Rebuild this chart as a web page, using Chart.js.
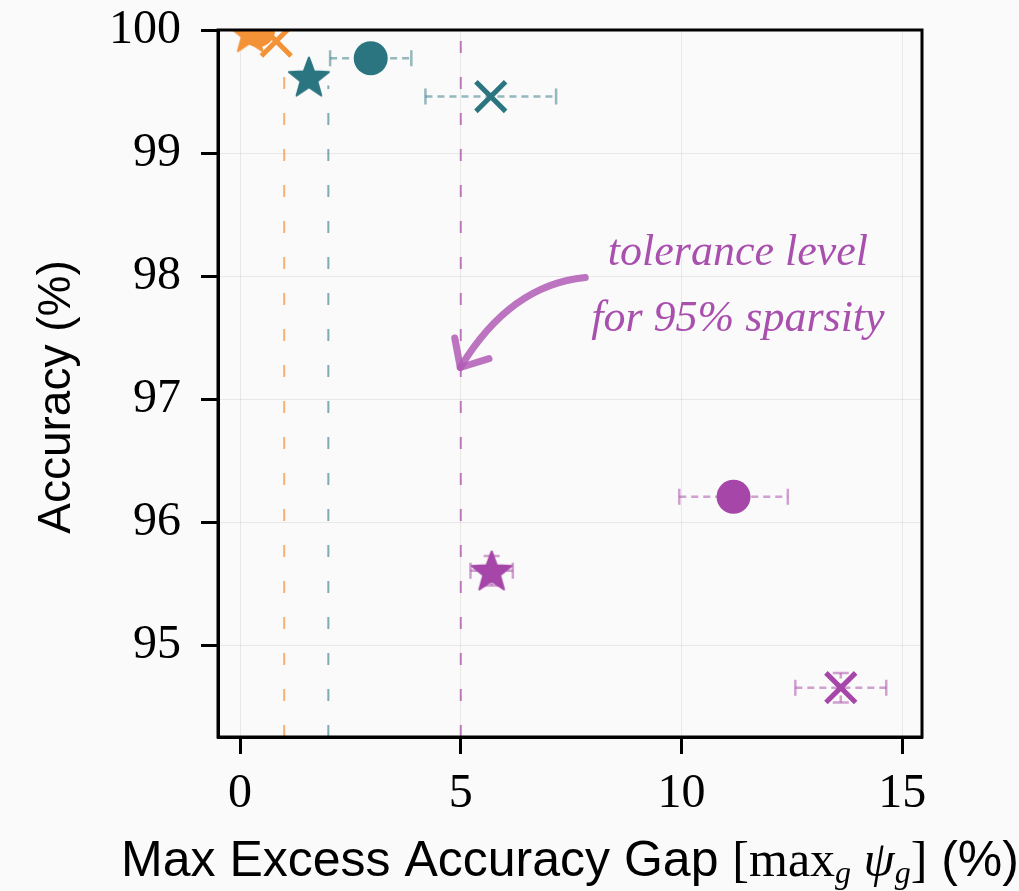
<!DOCTYPE html>
<html>
<head>
<meta charset="utf-8">
<script src="https://cdn.jsdelivr.net/npm/chart.js@4.4.1/dist/chart.umd.min.js"></script>
<style>
  html, body { margin: 0; padding: 0; background: #fafafa; }
  #wrap { width: 1019px; height: 891px; }
</style>
</head>
<body>
<div id="wrap"><canvas id="chart" width="1019" height="891"></canvas></div>
<script>
// axis limits and ticks
const xTicks = [0, 5, 10, 15];
const yTicks = [95, 96, 97, 98, 99, 100];
const xLimits = [-0.5, 15.45];
const yLimits = [94.26, 100];

// markers: cross, circle, star  (per group)
const orangeX = [0.82, 0.41, 0.23];
const orangeY = [99.91, 100.0, 99.98];
const orangeXErr = [0, 0, 0];
const orangeYErr = [0, 0, 0];

const tealX = [5.68, 2.96, 1.56];
const tealY = [99.46, 99.77, 99.62];
const tealXErr = [1.48, 0.92, 0];
const tealYErr = [0, 0, 0];

const purpleX = [13.61, 11.18, 5.70];
const purpleY = [94.66, 96.21, 95.61];
const purpleXErr = [1.03, 1.23, 0.48];
const purpleYErr = [0.12, 0, 0.12];

// vertical tolerance lines
const toleranceX = [1, 2, 5];
const toleranceTop = [99.72, 99.55, 100];

// annotation
const noteLines = ['tolerance level', 'for 95% sparsity'];
const noteX = 11.28;
const noteY = [98.09, 97.56];
const arrowFrom = { x: 7.82, y: 97.99 };
const arrowCtrl = { x: 6.12, y: 97.93 };
const arrowTo = { x: 4.99, y: 97.26 };

const ORANGE = '#f39237';
const TEAL = '#2b7580';
const PURPLE = '#a546a8';

function starCanvas(color, r) {
  const c = document.createElement('canvas');
  c.width = c.height = Math.ceil(r * 2 + 4);
  const g = c.getContext('2d');
  const cx = c.width / 2, cy = c.height / 2 + r * 0.08;
  g.beginPath();
  for (let i = 0; i < 10; i++) {
    const rad = i % 2 ? r * 0.42 : r;
    const a = -Math.PI / 2 + i * Math.PI / 5;
    const px = cx + rad * Math.cos(a), py = cy + rad * Math.sin(a);
    if (i === 0) g.moveTo(px, py); else g.lineTo(px, py);
  }
  g.closePath();
  g.fillStyle = color;
  g.strokeStyle = color;
  g.lineJoin = 'round';
  g.lineWidth = 2;
  g.fill();
  g.stroke();
  return c;
}

function pts(xs, ys) {
  return xs.map((x, i) => ({ x, y: ys[i] }));
}

function markerSet(label, color, xs, ys, xErr, yErr, errColor) {
  return {
    label,
    type: 'scatter',
    data: pts(xs, ys),
    xErr, yErr, errColor,
    pointStyle: ['crossRot', 'circle', starCanvas(color, 21)],
    pointRadius: [21, 17, 20],
    pointBorderWidth: [5, 0, 0],
    pointBackgroundColor: color,
    pointBorderColor: color,
    order: 1
  };
}

const tolColors = ['rgba(243,146,55,0.7)', 'rgba(43,117,128,0.6)', 'rgba(165,70,168,0.7)'];

const tolSets = toleranceX.map((x, i) => ({
  label: 'tol' + i,
  type: 'line',
  data: [{ x, y: yLimits[0] }, { x, y: toleranceTop[i] }],
  borderColor: tolColors[i],
  borderWidth: 2,
  borderDash: [12, 24],
  pointRadius: 0,
  fill: false,
  order: 5
}));

const markerSets = [
  markerSet('orange', ORANGE, orangeX, orangeY, orangeXErr, orangeYErr, 'rgba(243,146,55,0.5)'),
  markerSet('teal', TEAL, tealX, tealY, tealXErr, tealYErr, 'rgba(43,117,128,0.5)'),
  markerSet('purple', PURPLE, purpleX, purpleY, purpleXErr, purpleYErr, 'rgba(165,70,168,0.5)')
];
markerSets[0].clip = 0;

const bgPlugin = {
  id: 'bg',
  beforeDraw(chart) {
    const ctx = chart.ctx;
    ctx.save();
    ctx.fillStyle = '#fafafa';
    ctx.fillRect(0, 0, chart.width, chart.height);
    ctx.restore();
  }
};

const errorBars = {
  id: 'errorBars',
  beforeDatasetsDraw(chart) {
    const { ctx, scales: { x, y } } = chart;
    ctx.save();
    chart.data.datasets.forEach(ds => {
      if (!ds.xErr) return;
      ctx.strokeStyle = ds.errColor;
      ctx.lineWidth = 2.5;
      ds.data.forEach((p, i) => {
        const px = x.getPixelForValue(p.x), py = y.getPixelForValue(p.y);
        const ex = ds.xErr[i], ey = ds.yErr[i];
        if (ex > 0) {
          const x0 = x.getPixelForValue(p.x - ex), x1 = x.getPixelForValue(p.x + ex);
          ctx.setLineDash([7, 5]);
          ctx.beginPath(); ctx.moveTo(x0, py); ctx.lineTo(x1, py); ctx.stroke();
          ctx.setLineDash([]);
          ctx.beginPath();
          ctx.moveTo(x0, py - 8); ctx.lineTo(x0, py + 8);
          ctx.moveTo(x1, py - 8); ctx.lineTo(x1, py + 8);
          ctx.stroke();
        }
        if (ey > 0) {
          const y0 = y.getPixelForValue(p.y - ey), y1 = y.getPixelForValue(p.y + ey);
          ctx.setLineDash([7, 5]);
          ctx.beginPath(); ctx.moveTo(px, y0); ctx.lineTo(px, y1); ctx.stroke();
          ctx.setLineDash([]);
          ctx.beginPath();
          ctx.moveTo(px - 8, y0); ctx.lineTo(px + 8, y0);
          ctx.moveTo(px - 8, y1); ctx.lineTo(px + 8, y1);
          ctx.stroke();
        }
      });
    });
    ctx.restore();
  }
};

const overlay = {
  id: 'overlay',
  afterDatasetsDraw(chart) {
    const { ctx, chartArea: a, scales: { x, y } } = chart;
    ctx.save();
    // frame
    ctx.strokeStyle = '#000';
    ctx.lineWidth = 3;
    ctx.strokeRect(a.left, a.top, a.right - a.left, a.bottom - a.top);

    // annotation text
    ctx.fillStyle = '#a94fae';
    ctx.font = 'italic 44px "Liberation Serif"';
    ctx.textAlign = 'center';
    ctx.textBaseline = 'alphabetic';
    noteLines.forEach((t, i) => {
      ctx.fillText(t, x.getPixelForValue(noteX), y.getPixelForValue(noteY[i]));
    });

    // curved arrow
    const sx = x.getPixelForValue(arrowFrom.x), sy = y.getPixelForValue(arrowFrom.y);
    const cx = x.getPixelForValue(arrowCtrl.x), cy = y.getPixelForValue(arrowCtrl.y);
    const tx = x.getPixelForValue(arrowTo.x), ty = y.getPixelForValue(arrowTo.y);
    ctx.strokeStyle = 'rgba(176,90,181,0.85)';
    ctx.lineWidth = 7;
    ctx.lineCap = 'round';
    ctx.lineJoin = 'round';
    ctx.beginPath();
    ctx.moveTo(sx, sy);
    ctx.quadraticCurveTo(cx, cy, tx, ty);
    ctx.stroke();
    const back = Math.atan2(cy - ty, cx - tx);
    const len = 30, spread = 0.73;
    ctx.beginPath();
    ctx.moveTo(tx + len * Math.cos(back + spread), ty + len * Math.sin(back + spread));
    ctx.lineTo(tx, ty);
    ctx.lineTo(tx + len * Math.cos(back - spread), ty + len * Math.sin(back - spread));
    ctx.stroke();

    // y axis title
    ctx.fillStyle = '#000';
    ctx.save();
    ctx.translate(57, 397);
    ctx.rotate(-Math.PI / 2);
    ctx.font = '46px "Liberation Sans"';
    ctx.textAlign = 'center';
    ctx.textBaseline = 'middle';
    ctx.fillText('Accuracy (%)', 0, 0);
    ctx.restore();

    // x axis title with math part
    const parts = [
      { t: 'Max Excess Accuracy Gap ', f: '50px "Liberation Sans"', dy: 0 },
      { t: '[max', f: '50px "Liberation Serif"', dy: 0 },
      { t: 'g', f: 'italic 32px "Liberation Serif"', dy: 7 },
      { t: ' ψ', f: 'italic 50px "Liberation Serif"', dy: 0 },
      { t: 'g', f: 'italic 32px "Liberation Serif"', dy: 7 },
      { t: ']', f: '50px "Liberation Serif"', dy: 0 },
      { t: ' (%)', f: '50px "Liberation Sans"', dy: 0 }
    ];
    ctx.textAlign = 'left';
    ctx.textBaseline = 'alphabetic';
    let total = 0;
    parts.forEach(p => { ctx.font = p.f; p.w = ctx.measureText(p.t).width; total += p.w; });
    let px = (a.left + a.right) / 2 - total / 2;
    const base = 876;
    parts.forEach(p => {
      ctx.font = p.f;
      ctx.fillText(p.t, px, base + p.dy);
      px += p.w;
    });
    ctx.restore();
  }
};

const tickFont = { family: '"Liberation Serif"', size: 48 };

new Chart(document.getElementById('chart'), {
  type: 'scatter',
  data: { datasets: [...markerSets, ...tolSets] },
  options: {
    responsive: false,
    animation: false,
    layout: { padding: { top: 30, right: 97, left: 0, bottom: 0 } },
    plugins: { legend: { display: false }, tooltip: { enabled: false } },
    scales: {
      x: {
        type: 'linear',
        min: xLimits[0], max: xLimits[1],
        afterBuildTicks: s => { s.ticks = xTicks.map(v => ({ value: v })); },
        afterFit: s => { s.height = 154; s.paddingLeft = 0; s.paddingRight = 0; },
        grid: { color: 'rgba(0,0,0,0.07)', lineWidth: 1, tickColor: '#000', tickWidth: 3, tickLength: 17 },
        border: { color: '#000', width: 3 },
        ticks: { color: '#000', font: tickFont, padding: 12, maxRotation: 0 }
      },
      y: {
        type: 'linear',
        min: yLimits[0], max: yLimits[1],
        afterBuildTicks: s => { s.ticks = yTicks.map(v => ({ value: v })); },
        afterFit: s => { s.width = 218; s.paddingTop = 0; s.paddingBottom = 0; },
        grid: { color: 'rgba(0,0,0,0.07)', lineWidth: 1, tickColor: '#000', tickWidth: 3, tickLength: 17 },
        border: { color: '#000', width: 3 },
        ticks: { color: '#000', font: tickFont, padding: 20 }
      }
    }
  },
  plugins: [bgPlugin, errorBars, overlay]
});
</script>
</body>
</html>
